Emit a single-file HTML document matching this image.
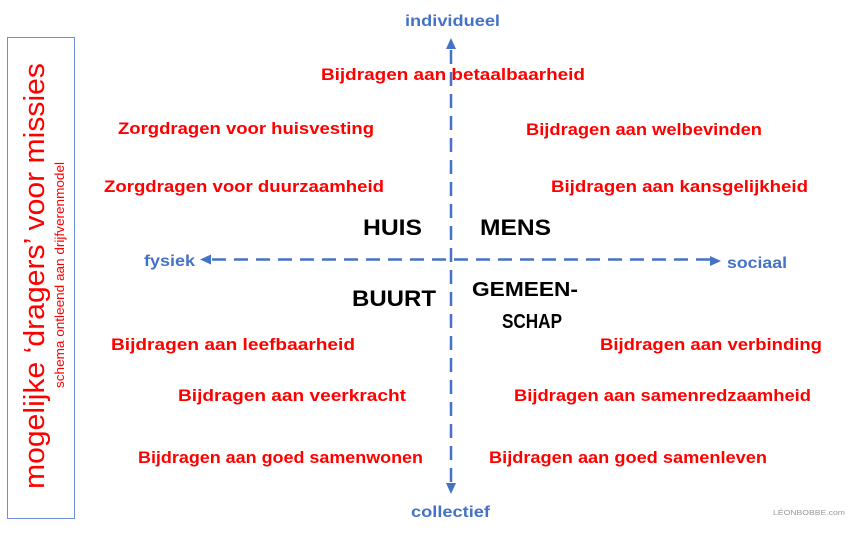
<!DOCTYPE html>
<html><head><meta charset="utf-8"><style>
html,body{margin:0;padding:0;background:#fff;}
svg{display:block;}
text{font-family:"Liberation Sans",sans-serif;font-weight:bold;}
.r{fill:#ff0000;font-size:16.5px;}
.b{fill:#4472c4;font-size:15.5px;}
.k{fill:#000;font-size:22px;}
</style></head><body>
<svg width="857" height="534" viewBox="0 0 857 534" xmlns="http://www.w3.org/2000/svg">
<rect x="7.5" y="37.5" width="67" height="481" fill="none" stroke="#6f8fd8" stroke-width="1"/>
<text transform="translate(44,489) rotate(-90)" style="font-weight:normal;font-size:29px;fill:#ff0000" textLength="426" lengthAdjust="spacingAndGlyphs">mogelijke ‘dragers’ voor missies</text>
<text transform="translate(64,388) rotate(-90)" style="font-weight:normal;font-size:13px;fill:#ff0000" textLength="226" lengthAdjust="spacingAndGlyphs">schema ontleend aan drijfverenmodel</text>
<g stroke="#4472c4" stroke-width="2.5" stroke-dasharray="14 8" fill="none">
<line x1="451" y1="50" x2="451" y2="482"/>
<line x1="212" y1="259.5" x2="710" y2="259.5"/>
</g>
<g fill="#4472c4">
<polygon points="451,38 446,49 456,49"/>
<polygon points="451,494 446,483 456,483"/>
<polygon points="200,259.5 211,254.5 211,264.5"/>
<polygon points="721,261 710,256 710,266"/>
</g>
<text class="b" x="405" y="26" textLength="95" lengthAdjust="spacingAndGlyphs">individueel</text>
<text class="b" x="411" y="517" textLength="79" lengthAdjust="spacingAndGlyphs">collectief</text>
<text class="b" x="144" y="266" textLength="51" lengthAdjust="spacingAndGlyphs">fysiek</text>
<text class="b" x="727" y="268" textLength="60" lengthAdjust="spacingAndGlyphs">sociaal</text>
<text class="r" x="321" y="80" textLength="264" lengthAdjust="spacingAndGlyphs">Bijdragen aan betaalbaarheid</text>
<text class="r" x="118" y="134" textLength="256" lengthAdjust="spacingAndGlyphs">Zorgdragen voor huisvesting</text>
<text class="r" x="526" y="135" textLength="236" lengthAdjust="spacingAndGlyphs">Bijdragen aan welbevinden</text>
<text class="r" x="104" y="192" textLength="280" lengthAdjust="spacingAndGlyphs">Zorgdragen voor duurzaamheid</text>
<text class="r" x="551" y="192" textLength="257" lengthAdjust="spacingAndGlyphs">Bijdragen aan kansgelijkheid</text>
<text class="r" x="111" y="350" textLength="244" lengthAdjust="spacingAndGlyphs">Bijdragen aan leefbaarheid</text>
<text class="r" x="600" y="350" textLength="222" lengthAdjust="spacingAndGlyphs">Bijdragen aan verbinding</text>
<text class="r" x="178" y="401" textLength="228" lengthAdjust="spacingAndGlyphs">Bijdragen aan veerkracht</text>
<text class="r" x="514" y="401" textLength="297" lengthAdjust="spacingAndGlyphs">Bijdragen aan samenredzaamheid</text>
<text class="r" x="138" y="463" textLength="285" lengthAdjust="spacingAndGlyphs">Bijdragen aan goed samenwonen</text>
<text class="r" x="489" y="463" textLength="278" lengthAdjust="spacingAndGlyphs">Bijdragen aan goed samenleven</text>
<text class="k" x="363" y="235" textLength="59" lengthAdjust="spacingAndGlyphs">HUIS</text>
<text class="k" x="480" y="235" textLength="71" lengthAdjust="spacingAndGlyphs">MENS</text>
<text class="k" x="352" y="306" textLength="84" lengthAdjust="spacingAndGlyphs">BUURT</text>
<text class="k" x="472" y="296" style="font-size:20px" textLength="106" lengthAdjust="spacingAndGlyphs">GEMEEN-</text>
<text class="k" x="502" y="328" style="font-size:20px" textLength="60" lengthAdjust="spacingAndGlyphs">SCHAP</text>
<text x="773" y="515" style="font-weight:normal;font-size:7px;fill:#999" textLength="72" lengthAdjust="spacingAndGlyphs">LÉONBOBBE.com</text>
</svg>
</body></html>
